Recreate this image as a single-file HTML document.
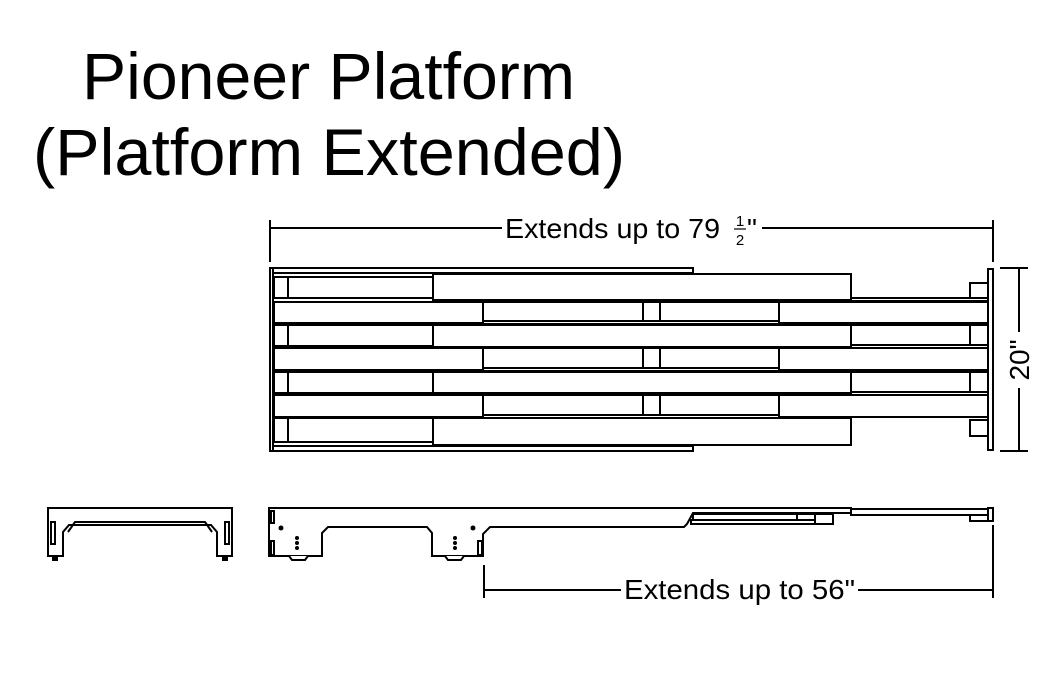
<!DOCTYPE html>
<html><head><style>
html,body{margin:0;padding:0;background:#fff;}
svg{display:block;}
text{font-family:"Liberation Sans",Arial,sans-serif;fill:#000;}
</style></head><body>
<svg width="1050" height="700" viewBox="0 0 1050 700" xmlns="http://www.w3.org/2000/svg">
<rect width="1050" height="700" fill="#fff"/>
<text x="82" y="99" font-size="66" textLength="493" lengthAdjust="spacingAndGlyphs">Pioneer Platform</text>
<text x="33" y="175" font-size="66" textLength="592" lengthAdjust="spacingAndGlyphs">(Platform Extended)</text>

<g stroke="#000" stroke-width="2" fill="none">
<line x1="270" y1="220" x2="270" y2="262"/>
<line x1="993" y1="220" x2="993" y2="262"/>
<line x1="270" y1="228" x2="502" y2="228"/>
<line x1="762" y1="228" x2="993" y2="228"/>
<line x1="1000" y1="268" x2="1028" y2="268"/>
<line x1="1000" y1="451" x2="1028" y2="451"/>
<line x1="1019" y1="268" x2="1019" y2="332"/>
<line x1="1019" y1="388" x2="1019" y2="451"/>
<line x1="484" y1="565" x2="484" y2="598"/>
<line x1="993" y1="525" x2="993" y2="598"/>
<line x1="484" y1="590" x2="621" y2="590"/>
<line x1="858" y1="590" x2="993" y2="590"/>
</g>
<text x="505" y="238" font-size="28" textLength="215" lengthAdjust="spacingAndGlyphs">Extends up to 79</text>
<text x="740" y="226" font-size="15" text-anchor="middle">1</text>
<line x1="734" y1="229" x2="746" y2="229" stroke="#000" stroke-width="1.2"/>
<text x="740" y="245" font-size="15" text-anchor="middle">2</text>
<text x="747" y="238" font-size="28">"</text>
<text x="624" y="599" font-size="28" textLength="231" lengthAdjust="spacingAndGlyphs">Extends up to 56"</text>
<text transform="translate(1029,360) rotate(-90)" font-size="28" text-anchor="middle">20"</text>

<g stroke="#000" stroke-width="2" fill="#fff">
<rect x="270" y="268" width="3" height="183"/>
<rect x="273" y="268" width="420" height="5"/>
<rect x="273" y="446" width="420" height="5"/>
<rect x="988" y="269" width="5" height="181"/>
<rect x="970" y="283" width="18" height="15"/>
<rect x="970" y="420" width="18" height="16"/>
<g>
<rect x="433" y="274" width="418" height="26"/>
<rect x="433" y="325" width="418" height="22"/>
<rect x="433" y="372" width="418" height="21"/>
<rect x="433" y="418" width="418" height="27"/>
<rect x="274" y="277" width="159" height="21"/>
<rect x="274" y="325" width="159" height="21"/>
<rect x="274" y="372" width="159" height="21"/>
<rect x="274" y="418" width="159" height="24"/>
<line x1="288" y1="277" x2="288" y2="298"/>
<line x1="288" y1="325" x2="288" y2="346"/>
<line x1="288" y1="372" x2="288" y2="393"/>
<line x1="288" y1="418" x2="288" y2="442"/>
<rect x="851" y="298" width="137" height="3"/>
<rect x="851" y="325" width="137" height="20"/>
<rect x="851" y="345" width="137" height="3"/>
<rect x="851" y="372" width="137" height="20"/>
<rect x="851" y="392" width="137" height="3"/>
<line x1="970" y1="325" x2="970" y2="345"/>
<line x1="970" y1="372" x2="970" y2="392"/>
</g>
<g>
<rect x="274" y="302" width="209" height="21"/>
<rect x="274" y="348" width="209" height="22"/>
<rect x="274" y="395" width="209" height="22"/>
<rect x="483" y="302" width="160" height="19"/>
<rect x="483" y="348" width="160" height="20"/>
<rect x="483" y="395" width="160" height="20"/>
<rect x="660" y="302" width="119" height="19"/>
<rect x="660" y="348" width="119" height="20"/>
<rect x="660" y="395" width="119" height="20"/>
<rect x="643" y="302" width="17" height="19"/>
<rect x="643" y="348" width="17" height="20"/>
<rect x="643" y="395" width="17" height="20"/>
<rect x="483" y="321" width="296" height="3"/>
<rect x="483" y="368" width="296" height="3"/>
<rect x="483" y="415" width="296" height="3"/>
<rect x="779" y="302" width="209" height="21"/>
<rect x="779" y="348" width="209" height="22"/>
<rect x="779" y="395" width="209" height="22"/>
</g>
</g>

<g stroke="#000" stroke-width="2" fill="#fff">
<path d="M48 508 H232 V556 H217 V532 L211 525 H69 L63 532 V556 H48 Z"/>
<path d="M68 532 L75 522 H205 L212 532" fill="none"/>
<rect x="51" y="522" width="4" height="22" fill="none"/>
<rect x="225" y="522" width="4" height="22" fill="none"/>
</g>
<rect x="52" y="556" width="6" height="5" fill="#000"/>
<rect x="222" y="556" width="6" height="5" fill="#000"/>

<g stroke="#000" stroke-width="2" fill="#fff">
<path d="M269 508 H851 V513 H693 L687 524 L684 527 H490 L483 534 V556 H432 V533 L427 527 H328 L322 533 V556 H269 Z"/>
<rect x="851" y="509" width="142" height="6"/>
<rect x="988" y="508" width="5" height="13"/>
<rect x="970" y="515" width="18" height="6"/>
<rect x="693" y="514" width="140" height="6"/>
<rect x="691" y="520" width="142" height="4"/>
<rect x="797" y="514" width="18" height="6"/>
<rect x="815" y="514" width="18" height="10"/>
<rect x="271" y="511" width="3" height="12"/>
<rect x="271" y="541" width="3" height="14"/>
<rect x="478" y="541" width="4" height="14"/>
<path d="M289 556 L292 560 H305 L308 556" />
<path d="M445 556 L448 560 H461 L464 556" />
</g>
<g fill="#000">
<circle cx="281" cy="528" r="2.5"/>
<circle cx="473" cy="528" r="2.5"/>
<circle cx="297" cy="538" r="2"/><circle cx="297" cy="543" r="2"/><circle cx="297" cy="548" r="2"/>
<circle cx="455" cy="538" r="2"/><circle cx="455" cy="543" r="2"/><circle cx="455" cy="548" r="2"/>
</g>
</svg>
</body></html>
